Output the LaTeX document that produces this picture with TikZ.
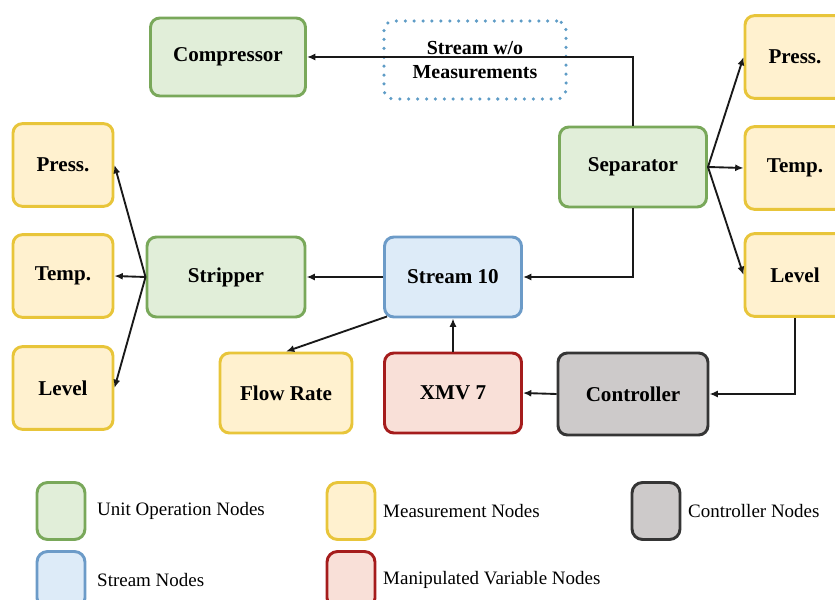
\documentclass[tikz,border=0pt]{standalone}
\usepackage{fontspec}
\setmainfont{Liberation Serif}
\usepackage{tikz}
\usetikzlibrary{arrows.meta, positioning}

\definecolor{uoDraw}{HTML}{79A85A}
\definecolor{uoFill}{HTML}{E1EED9}
\definecolor{msDraw}{HTML}{E8C53A}
\definecolor{msFill}{HTML}{FFF1CF}
\definecolor{stDraw}{HTML}{6C9BC8}
\definecolor{stFill}{HTML}{DDEBF8}
\definecolor{mvDraw}{HTML}{A51C1C}
\definecolor{mvFill}{HTML}{F9E0D8}
\definecolor{ctDraw}{HTML}{353535}
\definecolor{ctFill}{HTML}{CDCACA}
\definecolor{dotDraw}{HTML}{5E9CC6}

\begin{document}
\begin{tikzpicture}[
  x=0.03cm, y=-0.03cm,
  boite/.style={
    rounded corners=8pt, line width=2.5pt, align=center,
    font=\bfseries\fontsize{18}{20.5}\selectfont,
    inner sep=2pt, minimum height=2.4cm
  },
  unitop/.style={boite, draw=uoDraw, fill=uoFill},
  mesure/.style={boite, draw=msDraw, fill=msFill, minimum width=3.0cm, minimum height=2.48cm},
  flux/.style={boite, draw=stDraw, fill=stFill},
  manip/.style={boite, draw=mvDraw, fill=mvFill},
  ctrl/.style={boite, draw=ctDraw, fill=ctFill},
  pointille/.style={
    rounded corners=8pt, draw=dotDraw, line width=3pt, line cap=round,
    dash pattern=on 0pt off 7.6pt, align=center, inner sep=2pt,
    font=\bfseries\fontsize{17}{20.5}\selectfont
  },
  lien/.style={
    -{Latex[length=2.5mm, width=2.1mm]},
    draw=black!90, line width=1.6pt
  },
  carre/.style={
    rounded corners=9pt, line width=2.5pt,
    minimum width=1.44cm, minimum height=1.71cm, inner sep=0pt
  },
  legende/.style={font=\fontsize{16.2}{19}\selectfont, anchor=west, inner sep=0pt}
]
\useasboundingbox (0,0) rectangle (835,600);
\clip (0,0) rectangle (835,600);

% ----- haut -----
\node[unitop, minimum width=4.65cm, minimum height=2.34cm] (comp) at (228,57) {Compressor};
\node[pointille, minimum width=5.46cm, minimum height=2.34cm] (sansmes) at (475,60)
  {Stream w/o\\Measurements};
\node[unitop, minimum width=4.41cm] (sep) at (633,167) {Separator};

% ----- mesures separateur -----
\node[mesure] (rpress) at (795,57)  {Press.};
\node[mesure] (rtemp)  at (795,168) {Temp.};
\node[mesure] (rlevel) at (795,275) {Level};

% ----- stripper et mesures -----
\node[mesure] (lpress) at (63,165) {Press.};
\node[mesure] (ltemp)  at (63,276) {Temp.};
\node[mesure] (llevel) at (63,388) {Level};
\node[unitop, minimum width=4.74cm] (strip) at (226,277) {Stripper};

% ----- courant 10 et boucle -----
\node[flux, minimum width=4.11cm] (s10) at (453,277) {Stream 10};
\node[mesure, minimum width=3.96cm, minimum height=2.4cm] (debit) at (286,393) {Flow Rate};
\node[manip, minimum width=4.11cm] (xmv) at (453,393) {XMV 7};
\node[ctrl, minimum width=4.5cm, minimum height=2.46cm] (ctrl) at (633,394) {Controller};

% ----- liens -----
\draw[lien] (sep.north) |- (comp.east);
\draw[lien] (sep.south) |- (s10.east);
\draw[lien] (sep.east) -- (rpress.west);
\draw[lien] (sep.east) -- (rtemp.west);
\draw[lien] (sep.east) -- (rlevel.west);
\draw[lien] (strip.west) -- (lpress.east);
\draw[lien] (strip.west) -- (ltemp.east);
\draw[lien] (strip.west) -- (llevel.east);
\draw[lien] (s10.west) -- (strip.east);
\draw[lien] ([shift={(4,-2)}]s10.south west) -- (debit.north);
\draw[lien] (xmv.north) -- (s10.south);
\draw[lien] (ctrl.west) -- (xmv.east);
\draw[lien] (rlevel.south) |- (ctrl.east);

% ----- legende -----
\node[carre, draw=uoDraw, fill=uoFill] (lgUo) at (61,511) {};
\node[legende] (txUo) at (97,511) {Unit Operation Nodes};
\node[carre, draw=msDraw, fill=msFill] (lgMs) at (351,511) {};
\node[legende] (txMs) at (383,511) {Measurement Nodes};
\node[carre, draw=ctDraw, fill=ctFill] (lgCt) at (656,511) {};
\node[legende] (txCt) at (688,511) {Controller Nodes};
\node[carre, draw=stDraw, fill=stFill] (lgSt) at (61,580) {};
\node[legende] (txSt) at (97,580) {Stream Nodes};
\node[carre, draw=mvDraw, fill=mvFill] (lgMv) at (351,580) {};
\node[legende] (txMv) at (383,580) {Manipulated Variable Nodes};

\end{tikzpicture}
\end{document}
